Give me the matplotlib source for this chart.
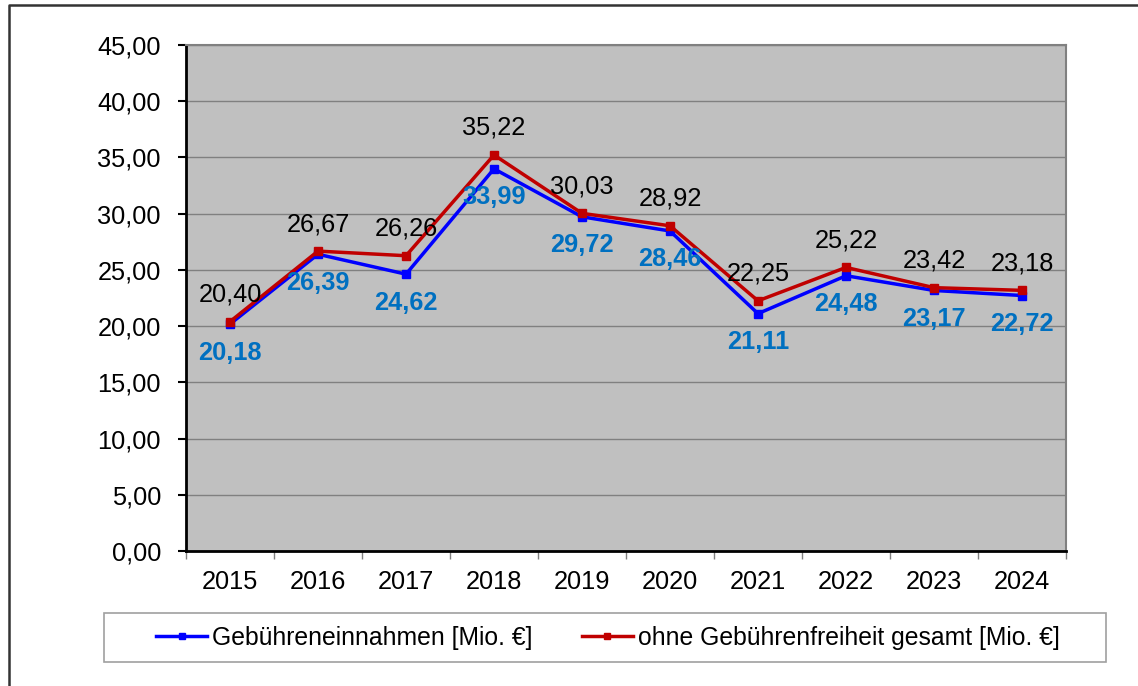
import matplotlib.pyplot as plt
import matplotlib.patches as mpatches
import matplotlib.lines as mlines
import numpy as np

plt.rcParams['font.family'] = ['Liberation Sans', 'DejaVu Sans']

# Daten
jahre = ['2015', '2016', '2017', '2018', '2019', '2020', '2021', '2022', '2023', '2024']
einnahmen = [20.18, 26.39, 24.62, 33.99, 29.72, 28.46, 21.11, 24.48, 23.17, 22.72]
ohne_freiheit = [20.40, 26.67, 26.26, 35.22, 30.03, 28.92, 22.25, 25.22, 23.42, 23.18]
name_blau = 'Gebühreneinnahmen [Mio. €]'
name_rot = 'ohne Gebührenfreiheit gesamt [Mio. €]'


def komma(v):
    return f'{v:.2f}'.replace('.', ',')


fig = plt.figure(figsize=(11.38, 6.86), dpi=100)
ax = fig.add_axes([186 / 1138, 1 - 551 / 686, 880 / 1138, 506 / 686])
ax.set_facecolor('#C0C0C0')

x = np.arange(len(jahre))
ax.plot(x, einnahmen, color='#0000FF', lw=2.5, marker='s', ms=5.5, zorder=3, label=name_blau)
ax.plot(x, ohne_freiheit, color='#C00000', lw=2.5, marker='s', ms=5.5, zorder=4, label=name_rot)

# Beschriftungen
for xi, v in zip(x, ohne_freiheit):
    ax.annotate(komma(v), (xi, v), xytext=(0, 19.5), textcoords='offset points',
                ha='center', va='center', fontsize=18.3, color='black', zorder=5)
for xi, v in zip(x, einnahmen):
    ax.annotate(komma(v), (xi, v), xytext=(0, -20.5), textcoords='offset points',
                ha='center', va='center', fontsize=18.3, color='#0070C0',
                fontweight='bold', zorder=5)

ax.set_xlim(-0.5, len(jahre) - 0.5)
ax.set_ylim(0, 45)
ax.set_yticks(np.arange(0, 46, 5))
ax.set_yticklabels([komma(t) for t in np.arange(0, 46, 5)])
ax.set_xticks(x)
ax.set_xticklabels(jahre)
ax.set_xticks(np.arange(-0.5, len(jahre), 1), minor=True)
ax.tick_params(axis='x', which='major', length=0, pad=14, labelsize=18.3)
ax.tick_params(axis='x', which='minor', length=6, width=1, color='#808080')
ax.tick_params(axis='y', length=6, width=1.5, pad=12, labelsize=18.3)
ax.yaxis.grid(True, color='#808080', lw=1)
ax.set_axisbelow(True)

ax.spines['left'].set_linewidth(2)
ax.spines['bottom'].set_linewidth(2)
ax.spines['top'].set_color('#808080')
ax.spines['right'].set_color('#808080')
ax.spines['top'].set_linewidth(1.5)
ax.spines['right'].set_linewidth(1.5)

# Legende
fig.patches.append(mpatches.Rectangle((104 / 1138, 1 - 662 / 686), 1002 / 1138, 49 / 686,
                                      transform=fig.transFigure, fill=False,
                                      edgecolor='#A0A0A0', lw=1.2))
leg = fig.legend(loc='center', bbox_to_anchor=(608 / 1138, 1 - 637.5 / 686), ncol=2,
                 frameon=False, fontsize=17.8, handlelength=2.06, handletextpad=0.2,
                 columnspacing=2.0, markerscale=0.8)

# Rahmen (nur links und oben sichtbar)
fig.lines.append(mlines.Line2D([8.5 / 1138, 8.5 / 1138, 1], [0, 1 - 4.5 / 686, 1 - 4.5 / 686],
                               transform=fig.transFigure, color='#333333', lw=1.8))

fig.savefig('out.png', dpi=100)
